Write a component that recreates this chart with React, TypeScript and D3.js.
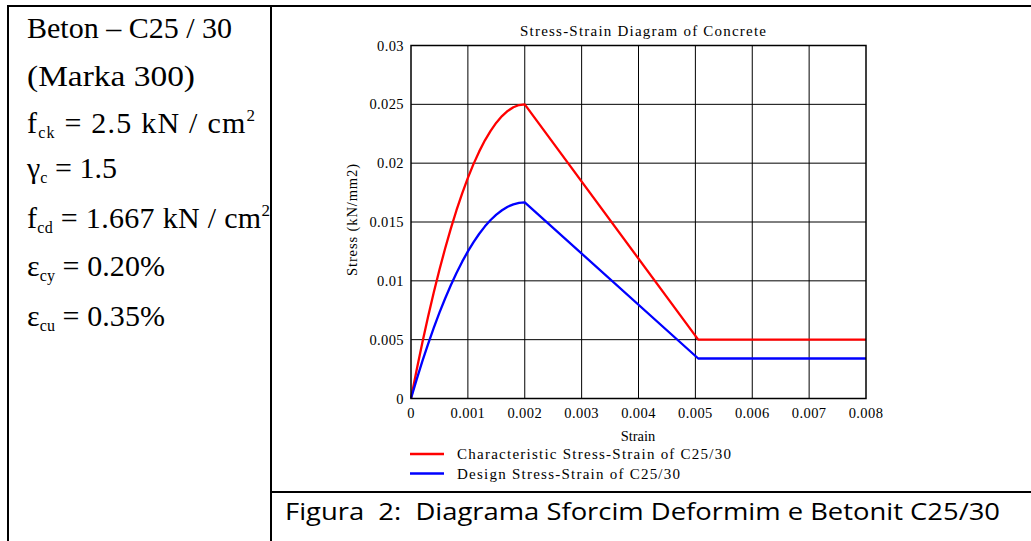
import React from "react";
import * as d3 from "d3";

// values
const strain = [
  0, 0.0001, 0.0002, 0.0003, 0.0004, 0.0005, 0.0006, 0.0007, 0.0008, 0.0009, 0.001,
  0.0011, 0.0012, 0.0013, 0.0014, 0.0015, 0.0016, 0.0017, 0.0018, 0.0019, 0.002, 0.00505, 0.008,
];
const charStress = [
  0, 0.00244, 0.00475, 0.00694, 0.009, 0.01094, 0.01275, 0.01444, 0.016, 0.01744, 0.01875,
  0.01994, 0.021, 0.02194, 0.02275, 0.02344, 0.024, 0.02444, 0.02475, 0.02494, 0.025, 0.005, 0.005,
];
const designStress = [
  0, 0.00163, 0.00317, 0.00463, 0.006, 0.00729, 0.0085, 0.00963, 0.01067, 0.01163, 0.0125,
  0.01329, 0.014, 0.01463, 0.01517, 0.01563, 0.016, 0.0163, 0.0165, 0.01663, 0.01667, 0.0034, 0.0034,
];
const xTicks = [0, 0.001, 0.002, 0.003, 0.004, 0.005, 0.006, 0.007, 0.008];
const yTicks = [0, 0.005, 0.01, 0.015, 0.02, 0.025, 0.03];
const seriesNames = ["Characteristic Stress-Strain of C25/30", "Design Stress-Strain of C25/30"];
const seriesColors = ["#ff0000", "#0000ff"];

const serif = "'Liberation Serif', 'Times New Roman', serif";

export default function App() {
  const x = d3.scaleLinear().domain([0, 0.008]).range([411, 866]);
  const y = d3.scaleLinear().domain([0, 0.03]).range([398.5, 45.5]);

  const line = d3
    .line<number>()
    .x((d, i) => x(strain[i]))
    .y((d) => y(d));

  const fmt = (v: number) => (v === 0 ? "0" : String(+v.toFixed(3)));

  return (
    <svg width={1031} height={541} style={{ position: "absolute", left: 0, top: 0, background: "#fff" }}>
      {/* table borders */}
      <g stroke="#000" strokeWidth={2}>
        <line x1={8} y1={6} x2={1031} y2={6} />
        <line x1={8} y1={5} x2={8} y2={541} />
        <line x1={271} y1={5} x2={271} y2={541} />
        <line x1={271} y1={492} x2={1031} y2={492} />
      </g>

      {/* left panel */}
      <g fontFamily={serif} fontSize={30} fill="#000">
        <text x={27} y={38}>Beton – C25 / 30</text>
        <text x={27} y={86} textLength={168} lengthAdjust="spacingAndGlyphs">(Marka 300)</text>
        <text x={27} y={133} textLength={228} lengthAdjust="spacing">
          f<tspan fontSize={16} dy={5}>ck</tspan>
          <tspan dy={-5}> = 2.5 kN / cm</tspan>
          <tspan fontSize={17} dy={-12}>2</tspan>
        </text>
        <text x={27} y={178} textLength={90} lengthAdjust="spacing">
          γ<tspan fontSize={16} dy={5}>c</tspan>
          <tspan dy={-5}> = 1.5</tspan>
        </text>
        <text x={27} y={228} textLength={243} lengthAdjust="spacing">
          f<tspan fontSize={16} dy={5}>cd</tspan>
          <tspan dy={-5}> = 1.667 kN / cm</tspan>
          <tspan fontSize={17} dy={-12}>2</tspan>
        </text>
        <text x={27} y={276} textLength={138} lengthAdjust="spacing">
          ε<tspan fontSize={16} dy={5}>cy</tspan>
          <tspan dy={-5}> = 0.20%</tspan>
        </text>
        <text x={27} y={326} textLength={138} lengthAdjust="spacing">
          ε<tspan fontSize={16} dy={5}>cu</tspan>
          <tspan dy={-5}> = 0.35%</tspan>
        </text>
      </g>

      {/* chart */}
      <g fontFamily={serif} fill="#000">
        <text x={643} y={36} fontSize={15} textAnchor="middle" textLength={246} lengthAdjust="spacing">
          Stress-Strain Diagram of Concrete
        </text>

        <g stroke="#000" strokeWidth={1}>
          {xTicks.slice(1, -1).map((t) => (
            <line key={"gx" + t} x1={x(t)} x2={x(t)} y1={y(0.03)} y2={y(0)} />
          ))}
          {yTicks.slice(1, -1).map((t) => (
            <line key={"gy" + t} x1={x(0)} x2={x(0.008)} y1={y(t)} y2={y(t)} />
          ))}
        </g>

        <path d={line(charStress) || ""} fill="none" stroke={seriesColors[0]} strokeWidth={2.3} strokeLinejoin="round" />
        <path d={line(designStress) || ""} fill="none" stroke={seriesColors[1]} strokeWidth={2.3} strokeLinejoin="round" />

        <rect
          x={x(0)}
          y={y(0.03)}
          width={x(0.008) - x(0)}
          height={y(0) - y(0.03)}
          fill="none"
          stroke="#000"
          strokeWidth={1.5}
        />

        <g fontSize={14.5} letterSpacing={0.4}>
          {yTicks.map((t) => (
            <text key={"yt" + t} x={x(0) - 7} y={y(t) + 5} textAnchor="end">
              {fmt(t)}
            </text>
          ))}
          {xTicks.map((t) => (
            <text key={"xt" + t} x={x(t)} y={418} textAnchor="middle">
              {fmt(t)}
            </text>
          ))}
        </g>

        <text x={638} y={441} fontSize={14.5} textAnchor="middle">
          Strain
        </text>
        <text
          transform={`translate(357, 220) rotate(-90)`}
          fontSize={14.5}
          textAnchor="middle"
          textLength={112}
          lengthAdjust="spacing"
        >
          Stress (kN/mm2)
        </text>

        {seriesNames.map((name, i) => (
          <g key={name}>
            <line x1={410} x2={444} y1={454 + i * 19.5} y2={454 + i * 19.5} stroke={seriesColors[i]} strokeWidth={2.3} />
            <text x={457} y={459 + i * 19.5} fontSize={15} textLength={i === 0 ? 274 : 223} lengthAdjust="spacing">
              {name}
            </text>
          </g>
        ))}
      </g>

      {/* caption */}
      <text
        x={285}
        y={520}
        fontFamily="'Open Sans', 'Noto Sans', sans-serif"
        fontSize={24}
        textLength={715}
        lengthAdjust="spacingAndGlyphs"
        fill="#000"
        style={{ whiteSpace: "pre" }}
      >
        {"Figura  2:  Diagrama Sforcim Deformim e Betonit C25/30"}
      </text>
    </svg>
  );
}
